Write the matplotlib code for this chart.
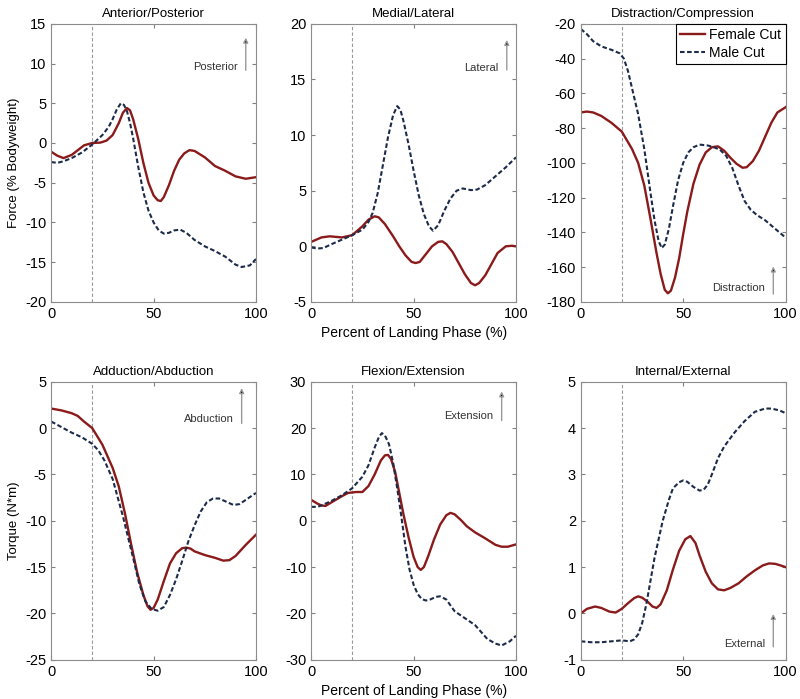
import matplotlib.pyplot as plt

plt.rcParams['font.family'] = ['Liberation Sans', 'DejaVu Sans']
plt.rcParams['axes.unicode_minus'] = False

# ---- data (percent of landing phase vs value) ----
# Anterior/Posterior force
ap_f_x = [0, 3, 6, 10, 13, 16, 20, 24, 27, 30, 33, 35, 37, 38.5, 40, 42.5, 45, 47.5, 50, 52, 53.5, 55, 57.5, 60, 62.5, 65, 67.5, 70, 75, 80, 85, 90, 95, 100]
ap_f_y = [-1.1, -1.6, -1.9, -1.5, -0.9, -0.3, 0.0, 0.05, 0.3, 1.0, 2.5, 3.8, 4.4, 4.1, 3.0, 0.5, -2.5, -5.0, -6.6, -7.2, -7.3, -6.8, -5.3, -3.5, -2.1, -1.3, -0.9, -1.0, -1.8, -2.9, -3.5, -4.2, -4.5, -4.3]
ap_m_x = [0, 3, 6, 10, 15, 20, 25, 28, 30, 32, 34, 35.5, 37, 38.5, 40, 42.5, 45, 47.5, 50, 52.5, 55, 57.5, 60, 63, 66, 70, 75, 80, 85, 90, 93, 97, 100]
ap_m_y = [-2.4, -2.5, -2.3, -1.9, -1.2, -0.2, 1.0, 2.0, 3.0, 4.2, 5.0, 4.8, 4.0, 2.5, 0.6, -3.0, -6.2, -8.5, -10.0, -11.0, -11.4, -11.3, -11.0, -10.9, -11.3, -12.2, -13.0, -13.6, -14.3, -15.3, -15.6, -15.4, -14.6]

# Medial/Lateral force
ml_f_x = [0, 5, 9, 15, 20, 25, 28, 31, 33, 36, 40, 43, 46, 49, 51, 53, 56, 59, 62, 64, 66, 69, 72, 75, 78, 80, 82, 85, 88, 91, 95, 98, 100]
ml_f_y = [0.4, 0.8, 0.9, 0.8, 1.0, 1.8, 2.4, 2.7, 2.6, 2.0, 0.9, 0.0, -0.8, -1.4, -1.5, -1.4, -0.7, 0.0, 0.4, 0.45, 0.2, -0.5, -1.5, -2.5, -3.3, -3.5, -3.3, -2.6, -1.6, -0.6, 0.0, 0.05, 0.0]
ml_m_x = [0, 3, 6, 10, 15, 20, 25, 28, 30, 32.5, 35, 37.5, 40, 42, 43.5, 45, 47.5, 50, 52.5, 55, 57.5, 59.5, 62, 65, 68, 71, 74, 78, 81, 85, 90, 95, 100]
ml_m_y = [-0.1, -0.2, -0.15, 0.2, 0.6, 1.0, 1.5, 2.2, 3.0, 4.8, 7.3, 9.8, 11.8, 12.6, 12.3, 11.3, 9.2, 6.8, 4.6, 2.9, 1.8, 1.4, 1.9, 3.2, 4.3, 5.0, 5.2, 5.05, 5.1, 5.5, 6.3, 7.1, 8.0]

# Distraction/Compression force
dc_f_x = [0, 3, 6, 10, 15, 20, 25, 28, 31, 34, 37, 39, 41, 42.5, 44, 46, 48, 50, 52, 55, 58, 61, 64, 67, 70, 73, 76, 79, 81, 84, 87, 90, 93, 96, 100]
dc_f_y = [-71, -70.5, -71, -73, -77, -82, -92, -100, -113, -132, -152, -164, -173, -175, -173.5, -166, -155, -141, -128, -112, -101, -94, -91, -90.5, -93, -97, -100.5, -102.8, -102.5, -99, -93, -85, -77, -71, -68]
dc_m_x = [0, 3, 6, 10, 15, 19, 21, 23, 25, 28, 31, 34, 36, 38, 39.5, 41, 43, 45, 47.5, 50, 52.5, 55, 58, 62, 65, 68, 71, 74, 77, 80, 83, 86, 90, 95, 100]
dc_m_y = [-23, -26, -30, -33, -35, -37, -40, -47, -57, -72, -92, -117, -133, -145, -149, -147, -138, -125, -110, -100, -94, -91, -89.5, -90, -91, -92.5, -96, -103, -113, -122, -127, -130, -133, -138, -143]

# Adduction/Abduction torque
aa_f_x = [0, 5, 10, 13, 16, 20, 25, 30, 33, 36, 39, 42, 45, 47, 48.5, 50, 52, 55, 58, 61, 64, 66, 68, 70, 75, 80, 84, 87, 90, 95, 100]
aa_f_y = [2.1, 1.9, 1.6, 1.3, 0.7, 0.0, -1.8, -4.3, -6.3, -9.2, -12.5, -15.6, -18.0, -19.2, -19.6, -19.4, -18.5, -16.5, -14.6, -13.5, -12.95, -12.9, -13.0, -13.3, -13.7, -14.0, -14.3, -14.25, -13.8, -12.6, -11.5]
aa_m_x = [0, 5, 10, 15, 20, 23, 26, 30, 35, 40, 43, 46, 49, 52, 55, 58, 61, 64, 67, 70, 73, 76, 79, 82, 85, 89, 92, 96, 100]
aa_m_y = [0.7, 0.1, -0.5, -1.0, -1.7, -2.4, -3.5, -5.5, -9.5, -14.0, -16.8, -18.7, -19.5, -19.7, -19.3, -18.0, -16.3, -14.3, -12.2, -10.5, -9.0, -8.0, -7.6, -7.6, -7.9, -8.3, -8.2, -7.6, -7.0]

# Flexion/Extension torque
fe_f_x = [0, 3, 5, 7, 10, 15, 18, 22, 25, 28, 31, 34, 36, 37.5, 39, 41, 43, 45, 47.5, 50, 52, 53.5, 55, 57, 60, 63, 66, 68, 70, 73, 76, 80, 85, 90, 93, 96, 100]
fe_f_y = [4.5, 3.7, 3.3, 3.2, 4.0, 5.3, 6.0, 6.2, 6.2, 7.5, 10.0, 13.0, 14.1, 14.2, 13.3, 10.5, 6.0, 1.5, -3.5, -7.8, -10.0, -10.6, -10.0, -7.8, -4.0, -0.8, 1.2, 1.7, 1.4, 0.2, -1.2, -2.5, -3.8, -5.2, -5.6, -5.6, -5.1]
fe_m_x = [0, 3, 5, 10, 15, 20, 25, 28, 31, 33, 34.5, 36, 38, 40, 42, 44, 46, 48, 50, 52, 54, 56, 58, 61, 63, 66, 70, 75, 80, 83, 86, 90, 93, 97, 100]
fe_m_y = [3.0, 3.0, 3.3, 4.3, 5.5, 7.0, 9.5, 12.0, 15.8, 18.0, 18.9, 18.4, 16.5, 12.5, 7.0, 1.0, -5.5, -10.5, -13.8, -15.8, -16.9, -17.2, -17.0, -16.4, -16.3, -17.0, -19.5, -21.0, -22.5, -24.0, -25.5, -26.5, -26.9, -26.0, -24.8]

# Internal/External torque
ie_f_x = [0, 3, 7, 10, 14, 17, 20, 23, 26, 28, 30, 33, 35, 37, 39, 42, 45, 48, 51, 53.5, 56, 58, 61, 64, 67, 70, 73, 77, 81, 85, 89, 92, 95, 98, 100]
ie_f_y = [0.0, 0.1, 0.15, 0.12, 0.04, 0.02, 0.1, 0.22, 0.33, 0.37, 0.34, 0.24, 0.15, 0.12, 0.2, 0.5, 0.95, 1.35, 1.6, 1.67, 1.52, 1.25, 0.9, 0.65, 0.52, 0.5, 0.55, 0.65, 0.8, 0.93, 1.04, 1.08, 1.07, 1.03, 1.0]
ie_m_x = [0, 5, 10, 15, 20, 24, 26, 28, 30, 32, 34, 36, 38, 40, 43, 45, 48, 50, 52, 55, 58, 60, 62, 64, 67, 70, 75, 80, 85, 90, 93, 97, 100]
ie_m_y = [-0.6, -0.62, -0.62, -0.6, -0.58, -0.6, -0.56, -0.45, -0.2, 0.2, 0.7, 1.2, 1.6, 2.0, 2.45, 2.7, 2.83, 2.87, 2.84, 2.73, 2.65, 2.67, 2.78, 3.0, 3.35, 3.6, 3.9, 4.15, 4.35, 4.42, 4.42, 4.38, 4.32]

titles = ['Anterior/Posterior', 'Medial/Lateral', 'Distraction/Compression',
          'Adduction/Abduction', 'Flexion/Extension', 'Internal/External']
ylims = [(-20, 15), (-5, 20), (-180, -20), (-25, 5), (-30, 30), (-1, 5)]
yticks = [range(-20, 16, 5), range(-5, 21, 5), range(-180, -19, 20),
          range(-25, 6, 5), range(-30, 31, 10), range(-1, 6, 1)]
series = [(ap_f_x, ap_f_y, ap_m_x, ap_m_y), (ml_f_x, ml_f_y, ml_m_x, ml_m_y),
          (dc_f_x, dc_f_y, dc_m_x, dc_m_y), (aa_f_x, aa_f_y, aa_m_x, aa_m_y),
          (fe_f_x, fe_f_y, fe_m_x, fe_m_y), (ie_f_x, ie_f_y, ie_m_x, ie_m_y)]
# direction arrows: (label, x, y_start, y_end, text_y)
arrows = [('Posterior', 95, 8.8, 13.6, 9.6), ('Lateral', 95.5, 15.6, 18.8, 16.0),
          ('Distraction', 94, -177, -158, -172), ('Abduction', 93, 0.2, 4.6, 1.0),
          ('Extension', 93, 21, 28.5, 22.5), ('External', 94, -0.78, 0.05, -0.65)]

red = '#8b1a1a'
blue = '#1c2b4a'

fig = plt.figure(figsize=(8, 6.99), dpi=100)
lefts = [0.064, 0.389, 0.726]
bottoms = [0.568, 0.056]
axes = []
for r in range(2):
    for c in range(3):
        axes.append(fig.add_axes([lefts[c], bottoms[r], 0.256, 0.398]))

for i, ax in enumerate(axes):
    fx, fy, mx, my = series[i]
    ax.axvline(20, color='0.6', lw=0.8, ls='--', dashes=(3, 2))
    ax.plot(fx, fy, color=red, lw=1.7, label='Female Cut', solid_joinstyle='round')
    ax.plot(mx, my, color=blue, lw=1.5, ls='--', dashes=(2.2, 1.2), label='Male Cut')
    ax.set_xlim(0, 100)
    ax.set_ylim(*ylims[i])
    ax.set_xticks([0, 50, 100])
    ax.set_yticks(list(yticks[i]))
    ax.set_title(titles[i], fontsize=9.5, pad=5)
    ax.tick_params(direction='in', top=True, right=True, labelsize=10.5, length=3, color='0.5')
    for s in ax.spines.values():
        s.set_color('0.55')
        s.set_linewidth(0.8)
    lab, ax_x, y0, y1, ty = arrows[i]
    ax.annotate('', xy=(ax_x, y1), xytext=(ax_x, y0),
                arrowprops=dict(arrowstyle='-|>', facecolor='black', edgecolor='0.6',
                                lw=1.0, mutation_scale=7))
    ax.text(ax_x - 4, ty, lab, fontsize=8, ha='right', va='center', color='0.2')

axes[0].set_ylabel('Force (% Bodyweight)', fontsize=9.5)
axes[3].set_ylabel('Torque (N*m)', fontsize=9.5)
axes[1].set_xlabel('Percent of Landing Phase (%)', fontsize=10)
axes[4].set_xlabel('Percent of Landing Phase (%)', fontsize=10)

leg = axes[2].legend(loc='upper right', fontsize=10, handlelength=1.8, handletextpad=0.3,
                     borderaxespad=0.0, fancybox=False, framealpha=1, borderpad=0.3,
                     labelspacing=0.3)
leg.get_frame().set_edgecolor('black')
leg.get_frame().set_linewidth(0.8)

fig.savefig('out.png', dpi=100)
